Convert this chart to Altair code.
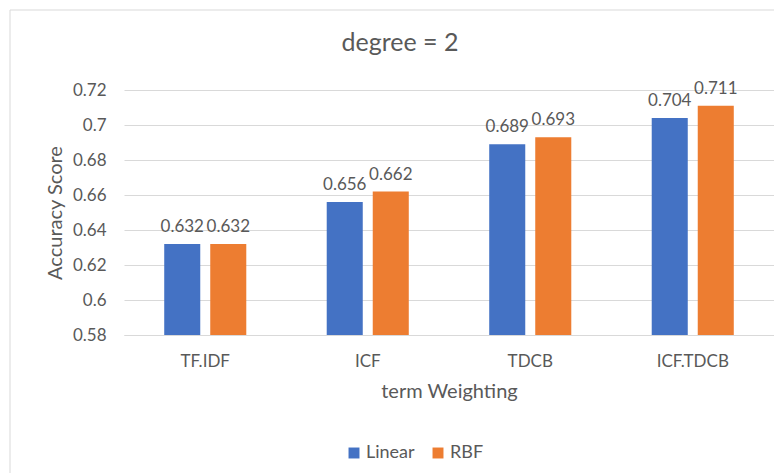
import altair as alt
import pandas as pd

categories = ["TF.IDF", "ICF", "TDCB", "ICF.TDCB"]
series = ["Linear", "RBF"]
linear_vals = [0.632, 0.656, 0.689, 0.704]
rbf_vals = [0.632, 0.662, 0.693, 0.711]
y_ticks = [0.58, 0.60, 0.62, 0.64, 0.66, 0.68, 0.70, 0.72]
colors = ["#4472C4", "#ED7D31"]

rows = []
for c, a, b in zip(categories, linear_vals, rbf_vals):
    rows.append({"cat": c, "series": "Linear", "value": a})
    rows.append({"cat": c, "series": "RBF", "value": b})
df = pd.DataFrame(rows)

FONT = "Lato"
TXT = "#595959"

x = alt.X("cat:N", sort=categories, title="term Weighting",
          scale=alt.Scale(paddingInner=0.495, paddingOuter=0.2475),
          axis=alt.Axis(labelAngle=0, labelPadding=18, ticks=False, domain=True,
                        domainColor="#d9d9d9", labelFontSize=17, titleFontSize=20,
                        titlePadding=12, labelColor=TXT, titleColor=TXT,
                        labelFont=FONT, titleFont=FONT, titleFontWeight="normal"))
xo = alt.XOffset("series:N", sort=series,
                 scale=alt.Scale(paddingInner=0.217, paddingOuter=0))
y = alt.Y("value:Q", title="Accuracy Score",
          scale=alt.Scale(domain=[0.58, 0.72], nice=False, zero=False),
          axis=alt.Axis(values=y_ticks, tickCount=20, format=".2~f", ticks=False,
                        domain=False, grid=True, gridColor="#d9d9d9", labelPadding=18,
                        labelFontSize=17, titleFontSize=20, labelColor=TXT,
                        titleColor=TXT, labelFont=FONT, titleFont=FONT,
                        titleFontWeight="normal", titlePadding=7))
color = alt.Color("series:N", sort=series, title=None,
                  scale=alt.Scale(domain=series, range=colors),
                  legend=alt.Legend(orient="none", legendX=221, legendY=354,
                                    direction="horizontal", symbolType="square",
                                    symbolSize=120, labelFontSize=18, labelFont=FONT,
                                    labelColor=TXT, columnPadding=14,
                                    symbolStrokeWidth=0, labelOffset=3))

bars = alt.Chart(df).mark_bar(clip=True).encode(x=x, xOffset=xo, y=y, color=color)
labels = alt.Chart(df).mark_text(baseline="alphabetic", dy=-12, fontSize=17,
                                 font=FONT, color=TXT).encode(
    x=alt.X("cat:N", sort=categories), xOffset=alt.XOffset("series:N", sort=series),
    y="value:Q", text=alt.Text("value:Q", format=".3f"))

border = alt.Chart(pd.DataFrame({"a": [0]})).mark_rect(
    filled=False, stroke="#d9d9d9", strokeWidth=1).encode(
    x=alt.value(-114), x2=alt.value(900), y=alt.value(-80), y2=alt.value(700))

chart = alt.layer(border, bars, labels).properties(
    width=650, height=245,
    title=alt.TitleParams("degree = 2", fontSize=25, font=FONT, color=TXT,
                          fontWeight="normal", anchor="middle", frame="group",
                          dx=-49, offset=-46),
    autosize=alt.AutoSizeParams(type="none"),
    padding={"left": 116, "top": 82, "right": 0, "bottom": 138},
).configure_view(stroke=None)

chart.save("out.html", embed_options={"renderer": "svg", "actions": False})
